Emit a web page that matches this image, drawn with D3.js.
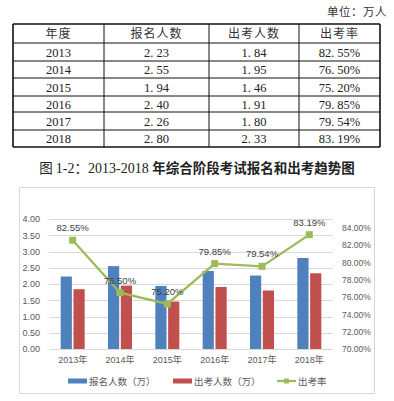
<!DOCTYPE html>
<html><head><meta charset="utf-8">
<script src="https://cdn.jsdelivr.net/npm/d3@7/dist/d3.min.js"></script>
<style>
html,body{margin:0;padding:0;background:#fff;}
svg{display:block;}
</style></head>
<body>
<svg id="c" width="394" height="401"></svg>
<script>
const years = ["2013","2014","2015","2016","2017","2018"];
const categories = ["2013年","2014年","2015年","2016年","2017年","2018年"];
const registered = [2.23, 2.55, 1.94, 2.40, 2.26, 2.80];
const attended = [1.84, 1.95, 1.46, 1.91, 1.80, 2.33];
const rate = [82.55, 76.50, 75.20, 79.85, 79.54, 83.19];
const headers = ["年度","报名人数","出考人数","出考率"];
const leftTicks = [0,0.5,1,1.5,2,2.5,3,3.5,4];
const rightTicks = [70,72,74,76,78,80,82,84];
const seriesNames = ["报名人数（万）","出考人数（万）","出考率"];
const colors = ["#4F81BD","#C0504D","#9BBB59"];

const svg = d3.select("#c");
const cjk = "'Noto Sans CJK SC', sans-serif";
const serif = "'Liberation Serif', 'Noto Sans CJK SC', serif";
const sans = "'Liberation Sans', Arial, 'Noto Sans CJK SC', sans-serif";

// unit
svg.append("text").attr("x",387).attr("y",16).attr("text-anchor","end")
  .attr("font-family",cjk).attr("font-size",11.5).attr("fill","#333").attr("letter-spacing",0.5).text("单位：万人");

// table
const colX = [13,104,209,299,380];
const rowY = [24,43,61,78,96,112,130,147];
const tg = svg.append("g");
rowY.forEach((y,i)=>{
  const w = (i===0||i===rowY.length-1)?1.6:1;
  tg.append("line").attr("x1",colX[0]).attr("x2",colX[4]).attr("y1",y).attr("y2",y)
    .attr("stroke","#111").attr("stroke-width",w);
});
colX.forEach((x,i)=>{
  const w = (i===0||i===colX.length-1)?1.6:1;
  tg.append("line").attr("x1",x).attr("x2",x).attr("y1",rowY[0]).attr("y2",rowY[rowY.length-1])
    .attr("stroke","#111").attr("stroke-width",w);
});
const cx = i => (colX[i]+colX[i+1])/2;
const cy = r => (rowY[r]+rowY[r+1])/2;
headers.forEach((h,i)=>{
  tg.append("text").attr("x",cx(i)).attr("y",cy(0)+4.5).attr("text-anchor","middle")
    .attr("font-family",cjk).attr("font-size",12).attr("letter-spacing",1).attr("fill","#333").text(h);
});
function numCell(x,y,str){
  const parts = str.split(".");
  const t = tg.append("text").attr("x",x).attr("y",y).attr("text-anchor","middle")
    .attr("font-family",serif).attr("font-size",12.5).attr("fill","#222");
  t.append("tspan").text(parts[0]+".");
  t.append("tspan").attr("dx",3).text(parts[1]);
}
const f2 = d3.format(".2f");
years.forEach((y,r)=>{
  const yy = cy(r+1)+4.5;
  tg.append("text").attr("x",cx(0)).attr("y",yy).attr("text-anchor","middle")
    .attr("font-family",serif).attr("font-size",12.5).attr("fill","#222").text(y);
  numCell(cx(1),yy,f2(registered[r]));
  numCell(cx(2),yy,f2(attended[r]));
  numCell(cx(3),yy,f2(rate[r])+"%");
});

// caption
const cap = svg.append("text").attr("x",197).attr("y",173).attr("text-anchor","middle")
  .attr("font-family",cjk).attr("font-size",13.5).attr("fill","#222");
cap.append("tspan").text("图 ");
cap.append("tspan").attr("font-family",serif).attr("font-size",14).text("1-2");
cap.append("tspan").text("：");
cap.append("tspan").attr("font-family",serif).attr("font-size",14).text("2013-2018 ");
cap.append("tspan").attr("font-weight","bold").text("年综合阶段考试报名和出考趋势图");

// chart box
svg.append("rect").attr("x",19.5).attr("y",187.5).attr("width",355).attr("height",206)
  .attr("fill","#fff").attr("stroke","#D9D9D9").attr("stroke-width",1);

const plotL = 49, plotR = 333, plotT = 219, plotB = 349;
const x = d3.scaleBand().domain(categories).range([plotL,plotR]).paddingInner(0).paddingOuter(0);
const yL = d3.scaleLinear().domain([0,4]).range([plotB,plotT]);
const yR = d3.scaleLinear().domain([70,85]).range([plotB,plotT]);
const xs = d3.scaleBand().domain([0,1]).range([-12,12]).paddingInner(0.125).paddingOuter(0);

const g = svg.append("g");
g.selectAll(".grid").data(leftTicks).enter().append("line")
  .attr("x1",plotL).attr("x2",plotR).attr("y1",d=>Math.round(yL(d))+0.5).attr("y2",d=>Math.round(yL(d))+0.5)
  .attr("stroke","#D9D9D9").attr("stroke-width",1);

const axL = d3.axisLeft(yL).tickValues(leftTicks).tickFormat(d3.format(".2f")).tickSize(0).tickPadding(9);
const gL = svg.append("g").attr("transform",`translate(${plotL},0)`).call(axL);
gL.select(".domain").remove();
gL.selectAll("text").attr("font-family",sans).attr("font-size",9).attr("fill","#595959");

const axR = d3.axisRight(yR).tickValues(rightTicks).tickFormat(d=>d3.format(".2f")(d)+"%").tickSize(0).tickPadding(9);
const gR = svg.append("g").attr("transform",`translate(${plotR},0)`).call(axR);
gR.select(".domain").remove();
gR.selectAll("text").attr("font-family",sans).attr("font-size",8.5).attr("fill","#595959");

const axB = d3.axisBottom(x).tickSize(0).tickPadding(8);
const gB = svg.append("g").attr("transform",`translate(0,${plotB})`).call(axB);
gB.select(".domain").remove();
gB.selectAll("text").attr("font-family",sans).attr("font-size",9).attr("fill","#595959");

[registered, attended].forEach((vals,s)=>{
  g.selectAll(".bar"+s).data(vals).enter().append("rect")
    .attr("x",(d,i)=>x(categories[i])+x.bandwidth()/2+xs(s))
    .attr("width",xs.bandwidth())
    .attr("y",d=>yL(d)).attr("height",d=>plotB-yL(d))
    .attr("fill",colors[s]);
});

const pts = rate.map((d,i)=>[x(categories[i])+x.bandwidth()/2, yR(d)]);
g.append("path").attr("d",d3.line()(pts)).attr("fill","none").attr("stroke",colors[2]).attr("stroke-width",2.25);
g.selectAll(".mk").data(pts).enter().append("rect")
  .attr("x",d=>d[0]-3.5).attr("y",d=>d[1]-3.5).attr("width",7).attr("height",7).attr("fill",colors[2]);
g.selectAll(".lbl").data(rate).enter().append("text")
  .attr("x",(d,i)=>pts[i][0]).attr("y",(d,i)=>pts[i][1]-9).attr("text-anchor","middle")
  .attr("font-family",sans).attr("font-size",9.5).attr("fill","#404040")
  .text(d=>d3.format(".2f")(d)+"%");

const lg = svg.append("g").attr("font-family",cjk).attr("font-size",9.5).attr("fill","#595959");
const legX = [68,173,277];
seriesNames.forEach((n,i)=>{
  if(i<2){
    lg.append("rect").attr("x",legX[i]).attr("y",378.5).attr("width",19).attr("height",5).attr("fill",colors[i]);
  } else {
    lg.append("line").attr("x1",legX[i]).attr("x2",legX[i]+19).attr("y1",381).attr("y2",381).attr("stroke",colors[2]).attr("stroke-width",2.25);
    lg.append("rect").attr("x",legX[i]+9.5-2.5).attr("y",378.5).attr("width",5).attr("height",5).attr("fill",colors[2]);
  }
  lg.append("text").attr("x",legX[i]+21).attr("y",384.5).text(n);
});
</script>
</body></html>
